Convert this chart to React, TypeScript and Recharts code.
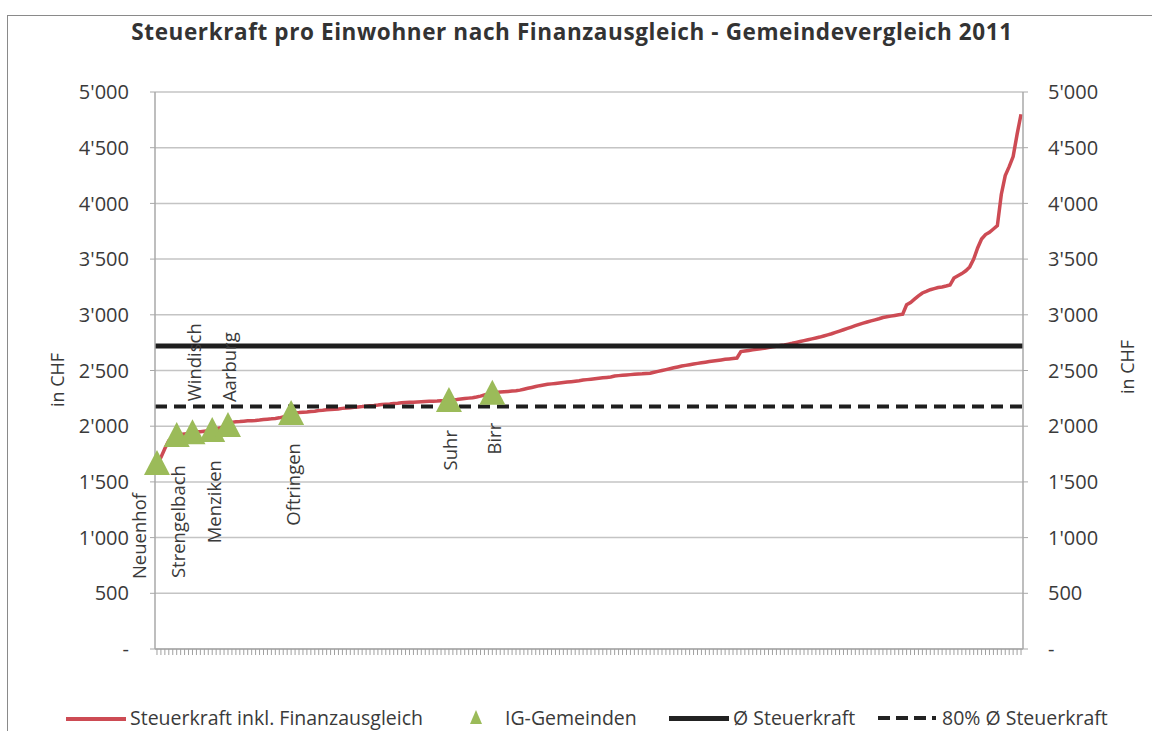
import React from 'react';
import { ComposedChart, Line, Scatter, XAxis, YAxis, CartesianGrid, ReferenceLine } from 'recharts';

// Steuerkraft pro Einwohner inkl. Finanzausgleich, Gemeinden aufsteigend sortiert (CHF)
const steuerkraft: number[] = [
  1670, 1720, 1800, 1870, 1895, 1915, 1925, 1930, 1935, 1945,
  1950, 1950, 1955, 1960, 1965, 1975, 1985, 1995, 2010, 2035,
  2040, 2042, 2045, 2048, 2050, 2052, 2055, 2060, 2063, 2066,
  2070, 2075, 2082, 2100, 2118, 2120, 2122, 2125, 2128, 2132,
  2135, 2140, 2143, 2147, 2150, 2153, 2155, 2160, 2163, 2166,
  2170, 2173, 2176, 2180, 2183, 2186, 2190, 2195, 2198, 2200,
  2203, 2206, 2210, 2212, 2214, 2216, 2218, 2220, 2222, 2224,
  2225, 2226, 2228, 2230, 2235, 2238, 2240, 2244, 2248, 2252,
  2256, 2262, 2270, 2280, 2290, 2300, 2303, 2306, 2309, 2312,
  2315, 2318, 2324, 2332, 2340, 2348, 2356, 2364, 2370, 2376,
  2380, 2384, 2388, 2392, 2396, 2400, 2404, 2408, 2414, 2418,
  2422, 2426, 2430, 2434, 2438, 2442, 2450, 2454, 2457, 2460,
  2463, 2466, 2468, 2470, 2473, 2476, 2484, 2492, 2500, 2508,
  2516, 2524, 2532, 2540, 2546, 2552, 2558, 2564, 2570, 2575,
  2580, 2585, 2590, 2595, 2600, 2604, 2608, 2612, 2670, 2675,
  2680, 2685, 2690, 2695, 2700, 2706, 2712, 2718, 2724, 2730,
  2737, 2744, 2752, 2760, 2768, 2776, 2784, 2792, 2800, 2810,
  2820, 2830, 2842, 2854, 2866, 2878, 2890, 2902, 2914, 2925,
  2935, 2945, 2955, 2965, 2976, 2982, 2988, 2994, 3000, 3005,
  3090, 3110, 3140, 3170, 3196, 3210, 3225, 3235, 3245, 3250,
  3258, 3267, 3330, 3350, 3370, 3395, 3430, 3500, 3600, 3680,
  3720, 3740, 3770, 3800, 4080, 4250, 4330, 4420, 4620, 4800,
];

// IG-Gemeinden: Name, Rang (Index in steuerkraft), Wert, Beschriftung oben/unten
const igNames = ['Neuenhof', 'Strengelbach', 'Windisch', 'Menziken', 'Aarburg', 'Oftringen', 'Suhr', 'Birr'];
const igRank = [0, 5, 9, 14, 18, 34, 74, 85];
const igValues = [1670, 1920, 1945, 1965, 2010, 2118, 2235, 2300];
const igLabelPos = ['below', 'below', 'above', 'below', 'above', 'below', 'below', 'below'];

const avgSteuerkraft = 2720;
const avg80 = 2176;

const yTicks = [0, 500, 1000, 1500, 2000, 2500, 3000, 3500, 4000, 4500, 5000];

const legendLabels = ['Steuerkraft inkl. Finanzausgleich', 'IG-Gemeinden', 'Ø Steuerkraft', '80% Ø Steuerkraft'];

const FONT = '"Open Sans", "DejaVu Sans", sans-serif';
const TEXT = '#3a3a3a';
const RED = '#cd4b54';
const GREEN = '#9bbb59';

const rows = steuerkraft.map((v, i) => ({ idx: i, sk: v }));
const igRows = igNames.map((name, i) => ({ idx: igRank[i], ig: igValues[i], name, pos: igLabelPos[i] }));
const xTicks = rows.map((r) => r.idx);

const fmt = (v: number) => {
  if (v === 0) return '-';
  if (v < 1000) return String(v);
  return `${Math.floor(v / 1000)}'${String(v % 1000).padStart(3, '0')}`;
};

// small horizontal nudges so labels sit like in the original
const LABEL_SHIFT: Record<string, number> = { Neuenhof: -17 };

const IgMarker = (props: any) => {
  const { cx, cy, payload } = props;
  if (cx == null || cy == null) return null;
  const s = 13;
  const pts = `${cx},${cy - s} ${cx - s},${cy + s - 1} ${cx + s},${cy + s - 1}`;
  const lx = cx + (LABEL_SHIFT[payload.name] ?? 2);
  const below = payload.pos === 'below';
  const ly = below ? cy + 30 : cy - (payload.name === 'Aarburg' ? 23 : 31);
  return (
    <g>
      <polygon points={pts} fill={GREEN} />
      <text
        transform={`translate(${lx}, ${ly}) rotate(-90)`}
        textAnchor={below ? 'end' : 'start'}
        dy="0.35em"
        fontSize={18.5}
        fontFamily={FONT}
        fill={TEXT}
      >
        {payload.name}
      </text>
    </g>
  );
};

const emptyTick = () => <g />;

const LegendRow = () => {
  const item: React.CSSProperties = { position: 'absolute', top: 705, fontSize: 19.5, fontFamily: FONT, color: TEXT, whiteSpace: 'nowrap', lineHeight: '26px' };
  return (
    <>
      <div style={{ position: 'absolute', left: 66, top: 717, width: 60, height: 4, background: RED }} />
      <div style={{ ...item, left: 130 }}>{legendLabels[0]}</div>
      <svg style={{ position: 'absolute', left: 468, top: 709 }} width={16} height={16}>
        <polygon points="8,1 2,15 14,15" fill={GREEN} />
      </svg>
      <div style={{ ...item, left: 505 }}>{legendLabels[1]}</div>
      <div style={{ position: 'absolute', left: 669, top: 716, width: 60, height: 5, background: '#222' }} />
      <div style={{ ...item, left: 733 }}>{legendLabels[2]}</div>
      <svg style={{ position: 'absolute', left: 878, top: 714 }} width={58} height={8}>
        <line x1={0} x2={58} y1={4} y2={4} stroke="#222" strokeWidth={4} strokeDasharray="12 6" />
      </svg>
      <div style={{ ...item, left: 942 }}>{legendLabels[3]}</div>
    </>
  );
};

export default function App() {
  return (
    <div style={{ position: 'absolute', left: 0, top: 0, width: 1152, height: 731, overflow: 'hidden', background: '#fff' }}>
      <div style={{ position: 'absolute', left: 7, top: 15, width: 1170, height: 740, border: '1px solid #8a8a8a' }} />
      <div
        style={{
          position: 'absolute', left: 0, top: 16, width: 1144, textAlign: 'center',
          fontFamily: FONT, fontWeight: 700, fontSize: 22.5, letterSpacing: 0.6, color: '#333',
        }}
      >
        Steuerkraft pro Einwohner nach Finanzausgleich - Gemeindevergleich 2011
      </div>
      <div style={{ position: 'absolute', left: 57, top: 380, transform: 'translate(-50%, -50%) rotate(-90deg)', fontFamily: FONT, fontSize: 18, color: TEXT, whiteSpace: 'nowrap' }}>
        in CHF
      </div>
      <div style={{ position: 'absolute', left: 1127, top: 367, transform: 'translate(-50%, -50%) rotate(-90deg)', fontFamily: FONT, fontSize: 18, color: TEXT, whiteSpace: 'nowrap' }}>
        in CHF
      </div>
      <div style={{ position: 'absolute', left: 0, top: 0 }}>
        <ComposedChart width={1152} height={731} data={rows} margin={{ top: 92, right: 49, bottom: 62, left: 75 }}>
          <CartesianGrid vertical={false} stroke="#c4c4c4" strokeWidth={1.5} yAxisId="left" />
          <XAxis
            type="number"
            dataKey="idx"
            domain={[-0.5, steuerkraft.length - 0.5]}
            ticks={xTicks}
            interval={0}
            height={20}
            axisLine={{ stroke: '#a8a8a8', strokeWidth: 1.5 }}
            tickLine={{ stroke: '#a0a0a0' }}
            tickSize={6}
            tick={emptyTick}
          />
          <YAxis
            yAxisId="left"
            domain={[0, 5000]}
            ticks={yTicks}
            width={80}
            tickFormatter={fmt}
            axisLine={{ stroke: '#a8a8a8', strokeWidth: 1.5 }}
            tickLine={{ stroke: '#a8a8a8' }}
            tickSize={5}
            tickMargin={21}
            tick={{ fontSize: 20, fontFamily: FONT, fill: TEXT }}
            allowDataOverflow
          />
          <YAxis
            yAxisId="right"
            orientation="right"
            domain={[0, 5000]}
            ticks={yTicks}
            width={80}
            tickFormatter={fmt}
            axisLine={{ stroke: '#a8a8a8', strokeWidth: 1.5 }}
            tickLine={{ stroke: '#a8a8a8' }}
            tickSize={5}
            tickMargin={20}
            tick={{ fontSize: 20, fontFamily: FONT, fill: TEXT }}
            allowDataOverflow
          />
          <Line
            yAxisId="left"
            type="linear"
            dataKey="sk"
            stroke={RED}
            strokeWidth={3.5}
            dot={false}
            isAnimationActive={false}
          />
          <Line
            yAxisId="right"
            type="linear"
            dataKey="sk"
            stroke="none"
            dot={false}
            legendType="none"
            isAnimationActive={false}
          />
          <ReferenceLine yAxisId="left" y={avgSteuerkraft} stroke="#1e1e1e" strokeWidth={5} />
          <ReferenceLine yAxisId="left" y={avg80} stroke="#1e1e1e" strokeWidth={4} strokeDasharray="12 7" />
          <Scatter
            yAxisId="left"
            data={igRows}
            dataKey="ig"
            shape={(p: any) => <IgMarker {...p} />}
            isAnimationActive={false}
          />
        </ComposedChart>
      </div>
      <LegendRow />
    </div>
  );
}
